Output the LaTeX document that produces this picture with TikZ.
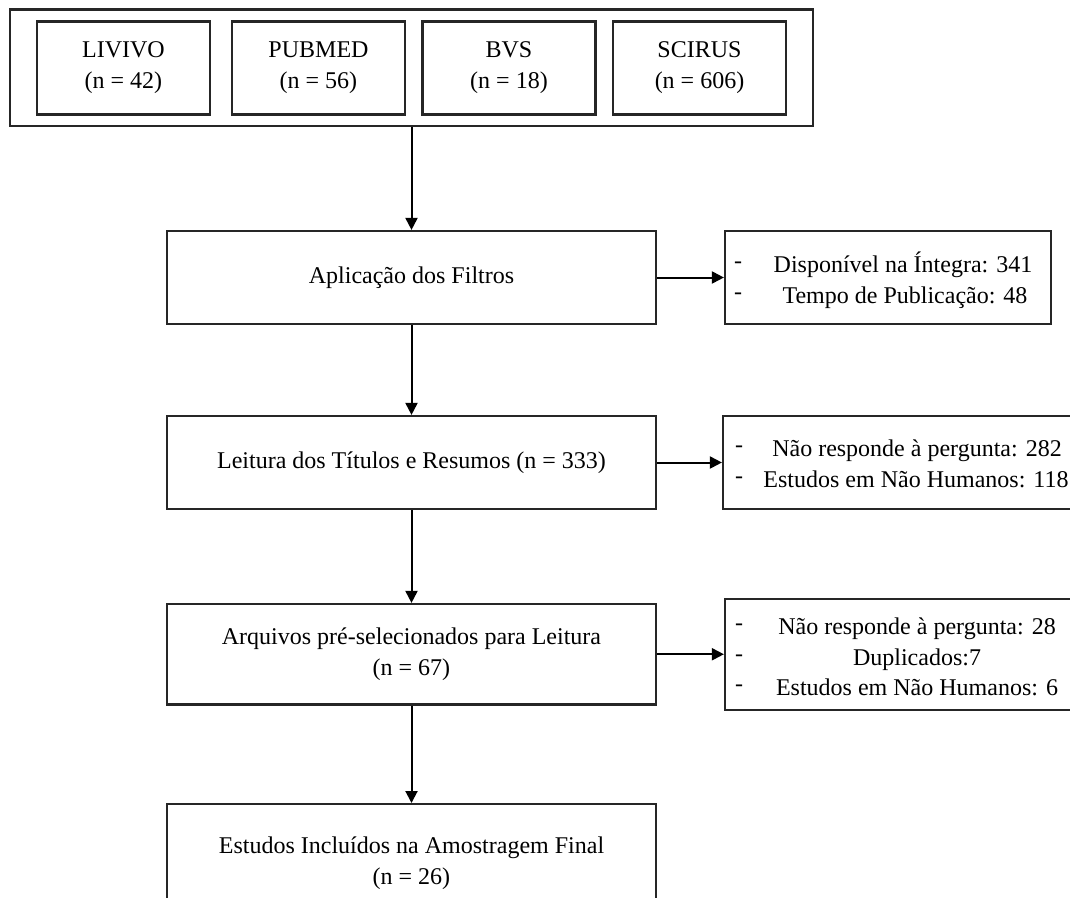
\documentclass[tikz,border=0pt]{standalone}
\usepackage{fontspec}
\setmainfont{Liberation Serif}
\usetikzlibrary{arrows.meta}
\begin{document}
\begin{tikzpicture}[x=1pt,y=-1pt,
  box/.style={draw=black!85, line width=2.2pt, inner sep=0pt, align=center,
    font=\fontsize{24}{31}\selectfont},
  txt/.style={inner sep=0pt, anchor=base, font=\fontsize{24}{31}\selectfont},
  arr/.style={line width=2pt, -{Triangle[length=12pt,width=12pt]}}]
\clip (0,0) rectangle (1070,897);
\fill[white] (0,0) rectangle (1070,897);
% top group
\node[box, minimum width=803pt, minimum height=116.5pt] (outer) at (411.5,67.75) {};
\node[box, minimum width=173pt, minimum height=93pt] (livivo) at (123.5,68) {LIVIVO\\(n = 42)};
\node[box, minimum width=173pt, minimum height=93pt] (pubmed) at (318.5,68) {PUBMED\\(n = 56)};
\node[box, minimum width=173pt, minimum height=93pt] (bvs) at (509,68) {BVS\\(n = 18)};
\node[box, minimum width=173pt, minimum height=93pt] (scirus) at (699.5,68) {SCIRUS\\(n = 606)};
% main column
\node[box, minimum width=489pt, minimum height=93pt] (aplic) at (411.5,277.5) {Aplicação dos Filtros};
\node[box, minimum width=489pt, minimum height=93pt] (leit) at (411.5,462.5) {Leitura dos Títulos e Resumos (n = 333)};
\node[box, minimum width=489pt, minimum height=100.5pt] (arq) at (411.5,654.25) {Arquivos pré-selecionados para Leitura\\(n = 67)};
\node[box, minimum width=489pt, minimum height=118pt, anchor=north] (est) at (411.5,803) {Estudos Incluídos na Amostragem Final\\(n = 26)};
% side boxes
\node[box, minimum width=326pt, minimum height=93pt] (r1) at (888,277.5) {};
\node[box, minimum width=357pt, minimum height=93pt] (r2) at (901.5,462.5) {};
\node[box, minimum width=355pt, minimum height=110.5pt] (r3) at (902.5,654.5) {};
% side box texts
\node[txt] (r1d1) at (738,268) {-};
\node[txt] (r1d2) at (738,299) {-};
\node[txt] (r1a) at (903,272) {Disponível na Íntegra: 341};
\node[txt] (r1b) at (905,303) {Tempo de Publicação: 48};
\node[txt] (r2d1) at (739,452) {-};
\node[txt] (r2d2) at (739,483.5) {-};
\node[txt] (r2a) at (917,456) {Não responde à pergunta: 282};
\node[txt] (r2b) at (916,487.5) {Estudos em Não Humanos: 118};
\node[txt] (r3d1) at (739,630) {-};
\node[txt] (r3d2) at (739,661) {-};
\node[txt] (r3d3) at (739,691) {-};
\node[txt] (r3a) at (917,634) {Não responde à pergunta: 28};
\node[txt] (r3b) at (917,665) {Duplicados:7};
\node[txt] (r3c) at (917,695) {Estudos em Não Humanos: 6};
% connectors
\draw[arr] (outer.south) -- (aplic.north);
\draw[arr] (aplic.south) -- (leit.north);
\draw[arr] (leit.south) -- (arq.north);
\draw[arr] (arq.south) -- (est.north);
\draw[arr] (aplic.east) -- (r1.west);
\draw[arr] (leit.east) -- (r2.west);
\draw[arr] (arq.east) -- (r3.west |- arq.east);
\end{tikzpicture}
\end{document}
